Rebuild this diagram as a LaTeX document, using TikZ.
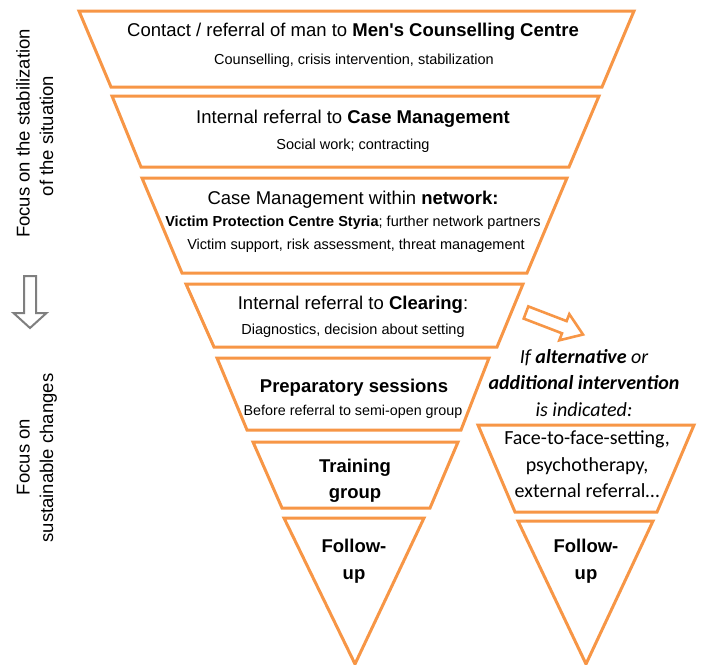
\documentclass[tikz,border=0pt]{standalone}
\usepackage{fontspec}
\setmainfont{Liberation Sans}[Ligatures=TeXOff]
\newfontfamily\calib{Carlito}
\definecolor{orng}{HTML}{F79646}
\definecolor{grarr}{HTML}{7F7F7F}
\tikzset{
  funnel/.style={draw=orng, line width=3pt, line join=miter},
  hd/.style={anchor=base, inner sep=0pt, font=\fontsize{18.5}{22}\selectfont},
  hdb/.style={anchor=base, inner sep=0pt, font=\fontsize{18.5}{22}\selectfont\bfseries},
  sub/.style={anchor=base, inner sep=0pt, font=\fontsize{14.5}{17}\selectfont},
  subsm/.style={anchor=base, inner sep=0pt, font=\fontsize{14.3}{16}\selectfont},
  side/.style={anchor=base, inner sep=0pt, rotate=90, font=\fontsize{18.5}{22}\selectfont},
  rt/.style={anchor=base, inner sep=0pt, font=\calib\fontsize{20}{24}\selectfont},
}
\begin{document}
\begin{tikzpicture}[x=1pt,y=-1pt]
\useasboundingbox[fill=white] (0,0) rectangle (701,664);
% funnel
\draw[funnel] (79,11) -- (634,11) -- (602,87) -- (111,87) -- cycle;
\draw[funnel] (112,96) -- (599,96) -- (569,167) -- (141,167) -- cycle;
\draw[funnel] (142,178) -- (567,178) -- (527,273) -- (182,273) -- cycle;
\draw[funnel] (186,284) -- (523,284) -- (497,347) -- (214,347) -- cycle;
\draw[funnel] (217,358) -- (489,358) -- (461,430) -- (247,430) -- cycle;
\draw[funnel] (253,442) -- (458,442) -- (430,508) -- (282,508) -- cycle;
\draw[funnel] (284,518) -- (424,518) -- (355,664) -- cycle;
% right branch
\draw[funnel] (478,425) -- (694,425) -- (657,512) -- (515,512) -- cycle;
\draw[funnel] (518,521) -- (653,521) -- (586,664) -- cycle;
% orange hollow arrow
\draw[funnel, line width=2.6pt] (528.3,306.4) -- (566.6,321.1) -- (569.3,314.1) -- (583,334.5)
  -- (559.3,340.3) -- (562,333.3) -- (523.7,318.6) -- cycle;
% grey hollow arrow
\draw[draw=grarr, line width=2pt, line join=miter] (24,276) -- (36,276) -- (36,313) -- (46.5,313)
  -- (30,328) -- (13.5,313) -- (24,313) -- cycle;
% side labels
\node[side] (s1a) at (29.5,133.5) {Focus on the stabilization};
\node[side] (s1b) at (53,136) {of the situation};
\node[side] (s2a) at (29.5,457) {Focus on};
\node[side] (s2b) at (53,458) {sustainable changes};
% box texts
\node[hd] (b1a) at (353,36) {Contact / referral of man to \textbf{Men's Counselling Centre}};
\node[sub] (b1b) at (354,64) {Counselling, crisis intervention, stabilization};
\node[hd] (b2a) at (353,123) {Internal referral to \textbf{Case Management}};
\node[sub] (b2b) at (353,149) {Social work; contracting};
\node[hd] (b3a) at (353,204) {Case Management within \textbf{network:}};
\node[sub] (b3b) at (353,226) {\textbf{Victim Protection Centre Styria}; further network partners};
\node[sub] (b3c) at (356,249) {Victim support, risk assessment, threat management};
\node[hd] (b4a) at (353,309) {Internal referral to \textbf{Clearing}:};
\node[sub] (b4b) at (353,334) {Diagnostics, decision about setting};
\node[hdb] (b5a) at (354,392) {Preparatory sessions};
\node[subsm] (b5b) at (353,415) {Before referral to semi-open group};
\node[hdb] (b6a) at (355,472) {Training};
\node[hdb] (b6b) at (355,498) {group};
\node[hdb] (b7a) at (354,552) {Follow-};
\node[hdb] (b7b) at (354,579) {up};
% right texts
\node[rt] (r1) at (584,363) {\itshape If \textbf{alternative} or};
\node[rt] (r2) at (584,389) {\itshape\bfseries additional intervention};
\node[rt] (r3) at (584,416) {\itshape is indicated:};
\node[rt] (r4) at (587,444) {Face-to-face-setting,};
\node[rt] (r5) at (587,471) {psychotherapy,};
\node[rt] (r6) at (587,497) {external referral…};
\node[hdb] (r7) at (586,552) {Follow-};
\node[hdb] (r8) at (586,579) {up};
\end{tikzpicture}
\end{document}
